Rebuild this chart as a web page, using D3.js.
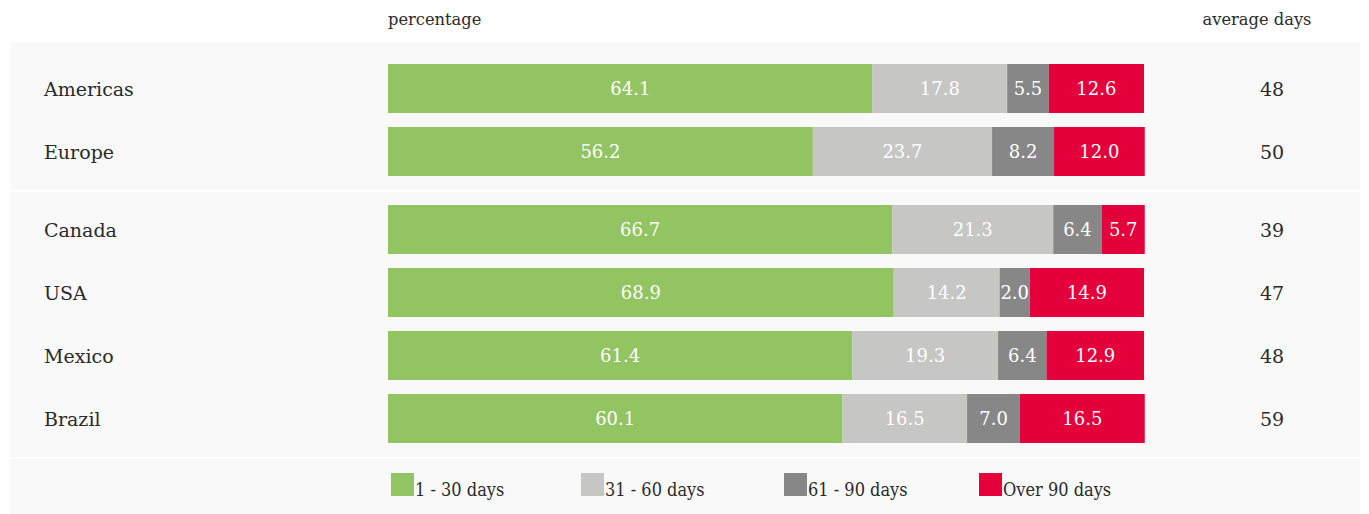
<!DOCTYPE html>
<html>
<head>
<meta charset="utf-8">
<script src="https://cdn.jsdelivr.net/npm/d3@7"></script>
<style>
  body { margin: 0; background: #fff; }
  text { font-family: "DejaVu Serif", serif; fill: #2a2a2a; }
</style>
</head>
<body>
<svg id="canvas"></svg>
<script>
// payment duration breakdown, two groups of rows
let regions = ['Americas', 'Europe', 'Canada', 'USA', 'Mexico', 'Brazil']
let groupOf = [0, 0, 1, 1, 1, 1]
let buckets = ['1 - 30 days', '31 - 60 days', '61 - 90 days', 'Over 90 days']

// printed numbers
let labels = [
    ['64.1', '17.8', '5.5', '12.6'],
    ['56.2', '23.7', '8.2', '12.0'],
    ['66.7', '21.3', '6.4', '5.7'],
    ['68.9', '14.2', '2.0', '14.9'],
    ['61.4', '19.3', '6.4', '12.9'],
    ['60.1', '16.5', '7.0', '16.5']
]
// bar lengths as drawn (USA bar is drawn shorter than its label)
let shares = [
    [64.1, 17.8, 5.5, 12.6],
    [56.2, 23.7, 8.2, 12.0],
    [66.7, 21.3, 6.4, 5.7],
    [66.9, 14.0, 4.0, 15.1],
    [61.4, 19.3, 6.4, 12.9],
    [60.1, 16.5, 7.0, 16.5]
]
let avgDays = [48, 50, 39, 47, 48, 59]

let colors = ['#93c462', '#c6c6c4', '#878787', '#e4003a']

let width = 1369
let height = 514

let svg = d3.select('#canvas')
            .attr('width', width)
            .attr('height', height)

let x = d3.scaleLinear().domain([0, 100]).range([388, 1144])
// slot -> row centre, second group pushed down a bit
let y = d3.scaleLinear().domain([0, 1]).range([88.5, 151.5])
let groupGap = 15 / 63
let rowY = (i) => y(i + groupOf[i] * groupGap)
let barH = 49

// background panels
let panels = [[42, 190], [192, 457], [459, 514]]
svg.selectAll('.panel')
    .data(panels)
    .enter()
    .append('rect')
    .attr('class', 'panel')
    .attr('x', 10)
    .attr('width', 1350)
    .attr('y', (p) => p[0])
    .attr('height', (p) => p[1] - p[0])
    .attr('fill', '#f9f9f9')

// headers
svg.append('text')
    .attr('x', 388)
    .attr('y', 25)
    .style('font-size', '16.3px')
    .text('percentage')

svg.append('text')
    .attr('x', 1257)
    .attr('y', 25)
    .attr('text-anchor', 'middle')
    .style('font-size', '16.3px')
    .text('average days')

let rows = svg.selectAll('.row')
    .data(regions)
    .enter()
    .append('g')
    .attr('class', 'row')
    .attr('transform', (d, i) => 'translate(0,' + rowY(i) + ')')

rows.append('text')
    .attr('x', 44)
    .attr('dy', '0.4em')
    .style('font-size', '19px')
    .text((d) => d)

rows.append('text')
    .attr('x', 1272)
    .attr('dy', '0.4em')
    .attr('text-anchor', 'middle')
    .style('font-size', '19px')
    .text((d, i) => avgDays[i])

rows.each(function (d, i) {
    let g = d3.select(this)
    let start = 0
    let segs = shares[i].map((v, k) => {
        let s = { x0: start, x1: start + v, k: k, label: labels[i][k] }
        start += v
        return s
    })
    let seg = g.selectAll('.seg')
        .data(segs)
        .enter()
        .append('g')
        .attr('class', 'seg')

    seg.append('rect')
        .attr('x', (s) => x(s.x0))
        .attr('width', (s) => x(s.x1) - x(s.x0))
        .attr('y', -barH / 2)
        .attr('height', barH)
        .attr('fill', (s) => colors[s.k])

    seg.append('text')
        .attr('x', (s) => (x(s.x0) + x(s.x1)) / 2)
        .attr('dy', '0.36em')
        .attr('text-anchor', 'middle')
        .style('font-size', '18px')
        .style('fill', '#fff')
        .text((s) => s.label)
})

// legend
let legendX = [391, 581, 784, 979]
let legend = svg.selectAll('.legend-item')
    .data(buckets)
    .enter()
    .append('g')
    .attr('class', 'legend-item')
    .attr('transform', (d, i) => 'translate(' + legendX[i] + ',473)')

legend.append('rect')
    .attr('width', 23)
    .attr('height', 23)
    .attr('fill', (d, i) => colors[i])

legend.append('text')
    .attr('x', 24)
    .attr('y', 23)
    .style('font-family', '"DejaVu Serif Condensed", "DejaVu Serif", serif')
    .style('font-size', '18px')
    .text((d) => d)
</script>
</body>
</html>
